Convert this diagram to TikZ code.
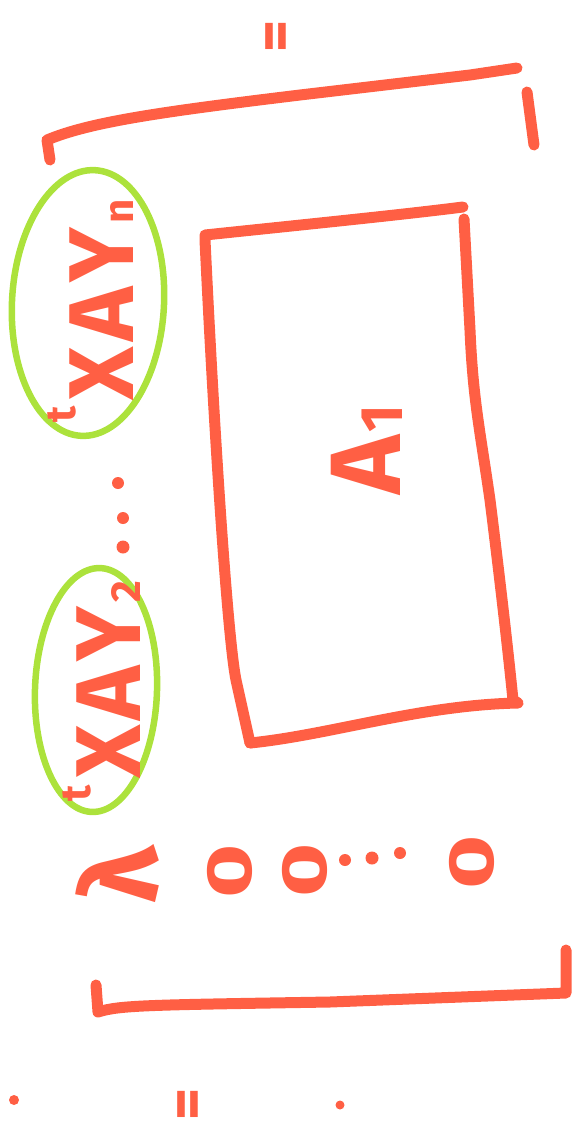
\documentclass[tikz,border=0pt]{standalone}
\usepackage{fontspec}
\setmainfont{Fira Sans}
\definecolor{ink}{RGB}{255,95,68}
\definecolor{hl}{RGB}{172,226,60}
\newcommand{\presup}[2][58pt]{\raisebox{#1}{\fontsize{42}{42}\selectfont #2}\hspace{6pt}}
\newcommand{\lowsub}[1]{\hspace{4pt}\raisebox{0pt}{\fontsize{42}{42}\selectfont #1}}
\newcommand{\gp}{\hspace{5pt}}
\begin{document}
\begin{tikzpicture}[x=1pt,y=-1pt,
  pen/.style={draw=ink,line width=11pt,line cap=round,line join=round},
  hlpen/.style={draw=hl,line width=6.5pt,line cap=round},
  dotmark/.style={fill=ink,draw=none},
  lbl/.style={text=ink,rotate=90,inner sep=0pt,font=\bfseries\fontsize{92}{96}\selectfont},
  zero/.style={text=ink,rotate=90,inner sep=0pt,font=\bfseries\fontsize{64}{70}\selectfont}]
\useasboundingbox (0,0) rectangle (572,1125);
% equals signs
\node[lbl,font=\bfseries\fontsize{62}{66}\selectfont] (eqtop) at (281,36) {=};
\node[lbl,font=\bfseries\fontsize{62}{66}\selectfont] (eqbot) at (193,1104) {=};
% top bracket
\draw[pen] (50,160) -- (47,140) .. controls (90,122) and (160,112) .. (300,95) -- (470,75) -- (517,68);
\draw[pen] (527,92) -- (534,145);
% bottom bracket
\draw[pen] (96,985) -- (98,1012) .. controls (120,1005) and (150,1005) .. (330,1002) -- (566,993) -- (566,950);
% highlighted ellipses
\draw[hlpen,rotate around={-3:(88,303)}] (88,303) ellipse [x radius=76, y radius=133];
\draw[hlpen,rotate around={-2:(96,690)}] (96,690) ellipse [x radius=61, y radius=122];
% row entries
\node[lbl,anchor=base] (xayn) at (133,311) {\presup{t}X\gp A\gp Y\lowsub{n}};
\node[lbl,anchor=base] (xay2) at (140,691) {\presup[50pt]{t}X\gp A\gp Y\lowsub{2}};
\fill[dotmark] (118,483) circle (6);
\fill[dotmark] (123,518) circle (6);
\fill[dotmark] (123,547) circle (6.5);
% first column
\node[lbl,font=\bfseries\fontsize{108}{112}\selectfont] (lam) at (117,875) {λ};
\node[zero] (z1) at (230,871) {\scalebox{1.45}[1]{0}};
\node[zero] (z2) at (305,870) {\scalebox{1.45}[1]{0}};
\fill[dotmark] (345,860) circle (6);
\fill[dotmark] (372,858) circle (6.5);
\fill[dotmark] (400,853) circle (6);
\node[zero] (z3) at (472,862) {\scalebox{1.45}[1]{0}};
% block A1
\draw[pen] (250,743) -- (236,680) .. controls (228,640) and (215,450) .. (205,240) -- (205,235)
  .. controls (300,225) and (400,215) .. (463,207);
\draw[pen] (464,219) -- (470,330) .. controls (473,400) and (480,430) .. (490,500)
  .. controls (500,580) and (508,650) .. (513,700)
  -- (518,703) .. controls (420,705) and (330,735) .. (250,743);
\node[lbl,anchor=base,font=\bfseries\fontsize{100}{104}\selectfont] (a1) at (400,450) {A\hspace{3pt}\raisebox{-2pt}{\fontsize{60}{60}\selectfont 1}};
% stray ink specks
\fill[dotmark] (14,1100) circle (5);
\fill[dotmark] (340,1105) circle (4.5);
\end{tikzpicture}
\end{document}
